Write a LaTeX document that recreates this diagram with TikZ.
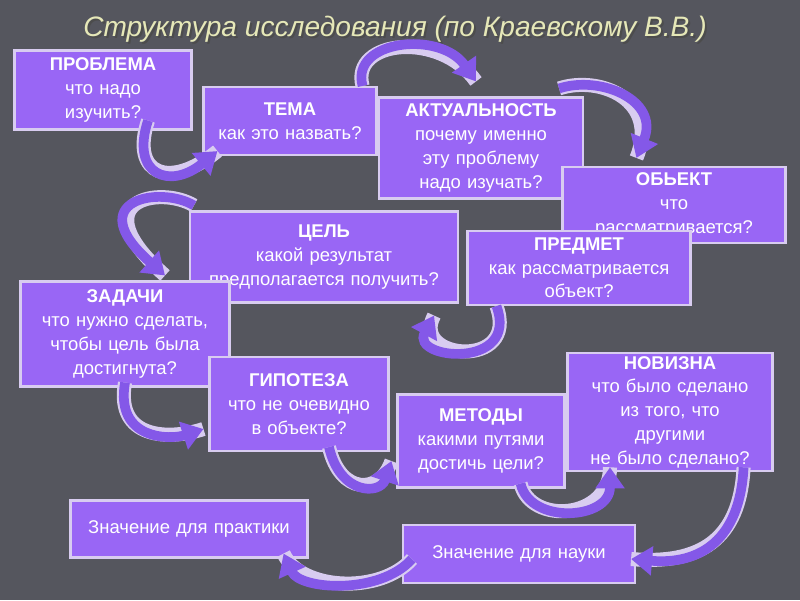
\documentclass[tikz,border=0pt]{standalone}
\usepackage{fontspec}
\setmainfont{Liberation Sans}
\usetikzlibrary{arrows.meta}
\definecolor{bgcol}{HTML}{55565E}
\definecolor{boxcol}{HTML}{9966F5}
\definecolor{boxline}{HTML}{D8CCF0}
\definecolor{arrcol}{HTML}{8458E8}
\definecolor{titlecol}{HTML}{E6E8B8}
\tikzset{
  box/.style={draw=boxline, line width=1.2pt, fill=boxcol, text=white, align=center, font=\fontsize{10.5}{13.5}\selectfont, inner sep=2pt},
  rim/.style={draw=boxline, line width=8pt},
  flow/.style={draw=arrcol, line width=5.5pt, -{Triangle[width=16pt,length=12pt]}},
}
\newcommand{\bigarrow}[1]{\draw[rim] #1; \draw[flow] #1;}
\begin{document}
\begin{tikzpicture}[x=0.02cm,y=-0.02cm]
  \fill[bgcol] (0,0) rectangle (800,600);
  \useasboundingbox (0,0) rectangle (800,600);
  \node[text=black!70, font=\itshape\fontsize{16}{20}\selectfont] at (397,31) {Структура исследования (по Краевскому В.В.)};
  \node[text=titlecol, font=\itshape\fontsize{16}{20}\selectfont] (title) at (395,29) {Структура исследования (по Краевскому В.В.)};
  % boxes
  \node[box, text width=170*0.02cm, minimum height=79*0.02cm] (problem) at (103,90) {\textbf{ПРОБЛЕМА}\\что надо\\изучить?};
  \node[box, text width=166*0.02cm, minimum height=68*0.02cm] (tema) at (290,121) {\textbf{ТЕМА}\\как это назвать?};
  \node[box, text width=197*0.02cm, minimum height=101*0.02cm] (aktual) at (481,148) {\textbf{АКТУАЛЬНОСТЬ}\\почему именно\\эту проблему\\надо изучать?};
  \node[box, text width=216*0.02cm, minimum height=76*0.02cm] (obekt) at (674,205) {\textbf{ОБЬЕКТ}\\что\\рассматривается?};
  \node[box, text width=261*0.02cm, minimum height=91*0.02cm] (cel) at (324,257) {\textbf{ЦЕЛЬ}\\какой результат\\предполагается получить?};
  \node[box, text width=216*0.02cm, minimum height=74*0.02cm] (predmet) at (579,268) {\textbf{ПРЕДМЕТ}\\как рассматривается\\объект?};
  \node[box, text width=202*0.02cm, minimum height=105*0.02cm] (zadachi) at (125,334) {\textbf{ЗАДАЧИ}\\что нужно сделать,\\чтобы цель была\\достигнута?};
  \node[box, text width=172*0.02cm, minimum height=94*0.02cm] (gipoteza) at (299,404) {\textbf{ГИПОТЕЗА}\\что не очевидно\\в объекте?};
  \node[box, text width=160*0.02cm, minimum height=93*0.02cm] (metody) at (481,441) {\textbf{МЕТОДЫ}\\какими путями\\достичь цели?};
  \node[box, text width=198*0.02cm, minimum height=114*0.02cm] (novizna) at (670,412) {\textbf{НОВИЗНА}\\что было сделано\\из того, что\\другими\\не было сделано?};
  \node[box, text width=230*0.02cm, minimum height=57*0.02cm] (praktika) at (189,529) {Значение для практики};
  \node[box, text width=225*0.02cm, minimum height=58*0.02cm] (nauka) at (519,554) {Значение для науки};
  % curved arrows
  \bigarrow{([shift={(45,-10)}]problem.south) .. controls (130,175) and (170,190) .. ([shift={(15,-5)}]tema.south west)}
  \bigarrow{([shift={(-15,0)}]tema.north east) .. controls (350,40) and (440,30) .. ([shift={(-5,-15)}]aktual.north)}
  \bigarrow{([shift={(-25,-8)}]aktual.north east) .. controls (600,75) and (660,100) .. ([shift={(75,-8)}]obekt.north west)}
  \bigarrow{([shift={(5,-5)}]cel.north west) .. controls (160,185) and (80,200) .. ([shift={(40,-5)}]zadachi.north)}
  \bigarrow{([shift={(30,0)}]predmet.south west) .. controls (520,370) and (410,360) .. ([shift={(-25,12)}]cel.south east)}
  \bigarrow{([shift={(0,-5)}]zadachi.south) .. controls (115,440) and (170,440) .. ([shift={(-5,25)}]gipoteza.west)}
  \bigarrow{([shift={(30,-5)}]gipoteza.south) .. controls (340,495) and (380,495) .. ([shift={(-5,20)}]metody.west)}
  \bigarrow{([shift={(-45,-5)}]metody.south east) .. controls (530,525) and (610,520) .. ([shift={(-60,-5)}]novizna.south)}
  \bigarrow{([shift={(-30,-5)}]novizna.south east) .. controls (740,540) and (700,565) .. ([shift={(-5,5)}]nauka.east)}
  \bigarrow{([shift={(10,5)}]nauka.west) .. controls (380,595) and (300,590) .. ([shift={(-25,-5)}]praktika.south east)}
\end{tikzpicture}
\end{document}
